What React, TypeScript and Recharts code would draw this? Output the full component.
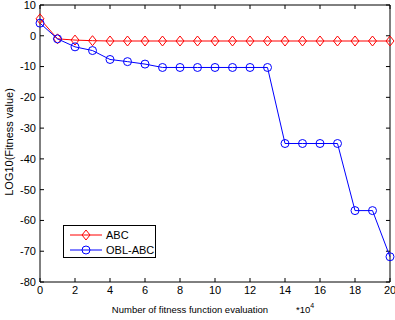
import { LineChart, Line, XAxis, YAxis, ReferenceLine } from "recharts";

const evals = [0, 1, 2, 3, 4, 5, 6, 7, 8, 9, 10, 11, 12, 13, 14, 15, 16, 17, 18, 19, 20];
const abc = [5.5, -1, -1.4, -1.6, -1.7, -1.7, -1.7, -1.7, -1.7, -1.7, -1.7, -1.7, -1.7, -1.7, -1.7, -1.7, -1.7, -1.7, -1.7, -1.7, -1.7];
const oblAbc = [4.1, -1, -3.6, -4.8, -7.7, -8.4, -9.2, -10.3, -10.3, -10.3, -10.3, -10.3, -10.3, -10.3, -35, -35, -35, -35, -56.8, -56.8, -71.8];
const xTicks = [0, 2, 4, 6, 8, 10, 12, 14, 16, 18, 20];
const yTicks = [10, 0, -10, -20, -30, -40, -50, -60, -70, -80];

const data = evals.map((x, i) => ({ x, abc: abc[i], obl: oblAbc[i] }));

const font = "'Liberation Sans', Arial, sans-serif";

function Diamond(props: any) {
  const { cx, cy } = props;
  if (cx == null || cy == null) return null;
  return (
    <path
      d={`M${cx},${cy - 5} L${cx + 4},${cy} L${cx},${cy + 5} L${cx - 4},${cy} Z`}
      fill="none"
      stroke="#ff0000"
      strokeWidth={1}
    />
  );
}

function Circle(props: any) {
  const { cx, cy } = props;
  if (cx == null || cy == null) return null;
  return <circle cx={cx} cy={cy} r={4} fill="none" stroke="#0000ff" strokeWidth={1} />;
}

function LegendBox() {
  return (
    <div
      style={{
        position: "absolute",
        left: 63,
        top: 225,
        border: "1px solid #000",
        background: "#fff",
        width: 93,
        height: 33,
        boxSizing: "border-box",
      }}
    >
      <svg width={91} height={31} style={{ display: "block" }}>
        <line x1={6} y1={9} x2={38} y2={9} stroke="#ff0000" />
        <path d="M22,4 L26,9 L22,14 L18,9 Z" fill="none" stroke="#ff0000" />
        <text x={42} y={13} fontFamily={font} fontSize={11}>ABC</text>
        <line x1={6} y1={24} x2={38} y2={24} stroke="#0000ff" />
        <circle cx={22} cy={24} r={4} fill="none" stroke="#0000ff" />
        <text x={42} y={28} fontFamily={font} fontSize={11}>OBL-ABC</text>
      </svg>
    </div>
  );
}

export default function App() {
  const tickStyle = { fontSize: 11, fill: "#000", fontFamily: font };
  return (
    <div style={{ position: "fixed", left: 0, top: 0, width: 395, height: 320, background: "#fff" }}>
      <LineChart width={395} height={320} data={data} margin={{ top: 5, right: 5, bottom: 0, left: 0 }}>
        <XAxis
          dataKey="x"
          type="number"
          domain={[0, 20]}
          ticks={xTicks}
          tick={tickStyle}
          tickSize={-4}
          tickMargin={8}
          height={38}
          stroke="#000"
          interval={0}
        />
        <YAxis
          type="number"
          domain={[-80, 10]}
          ticks={yTicks}
          tick={tickStyle}
          tickSize={-4}
          tickMargin={8}
          width={40}
          stroke="#000"
          interval={0}
        />
        {/* box frame: top and right edges with inward ticks */}
        <ReferenceLine y={10} stroke="#000" strokeWidth={1} />
        <ReferenceLine x={20} stroke="#000" strokeWidth={1} />
        {xTicks.map((t) => (
          <ReferenceLine
            key={`tx${t}`}
            segment={[{ x: t, y: 10 }, { x: t, y: 8.7 }]}
            stroke="#000"
          />
        ))}
        {yTicks.map((t) => (
          <ReferenceLine
            key={`ty${t}`}
            segment={[{ x: 20, y: t }, { x: 19.77, y: t }]}
            stroke="#000"
          />
        ))}
        <Line
          dataKey="abc"
          stroke="#ff0000"
          strokeWidth={1}
          dot={<Diamond />}
          isAnimationActive={false}
        />
        <Line
          dataKey="obl"
          stroke="#0000ff"
          strokeWidth={1}
          dot={<Circle />}
          isAnimationActive={false}
        />
        <text x={190} y={313} textAnchor="middle" fontFamily={font} fontSize={9.5} fill="#000">
          Number of fitness function evaluation
        </text>
        <text x={296} y={313} fontFamily={font} fontSize={9.5} fill="#000">
          *10
          <tspan dy={-5} fontSize={7}>4</tspan>
        </text>
        <text
          x={13}
          y={142}
          textAnchor="middle"
          fontFamily={font}
          fontSize={11}
          fill="#000"
          transform="rotate(-90 13 142)"
        >
          LOG10(Fitness value)
        </text>
      </LineChart>
      <LegendBox />
    </div>
  );
}
